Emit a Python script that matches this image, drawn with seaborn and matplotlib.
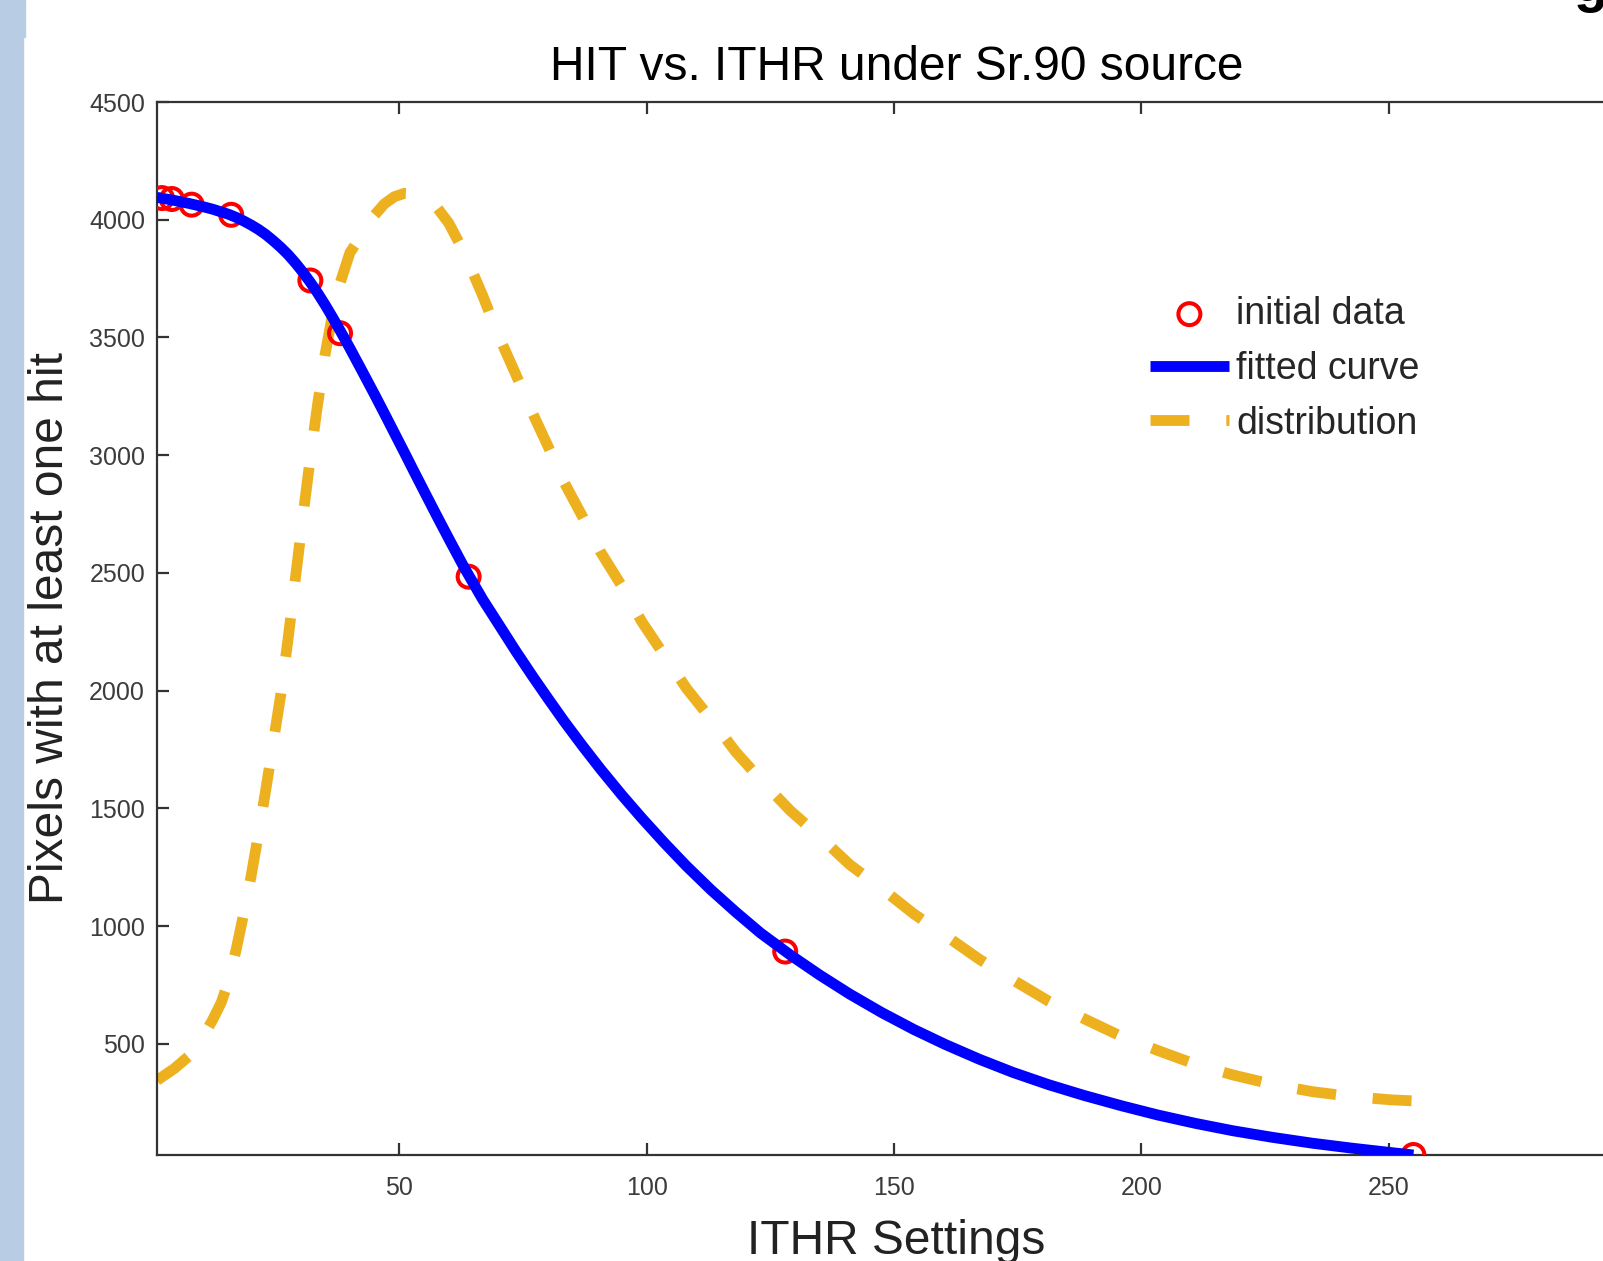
import numpy as np
import pandas as pd
import seaborn as sns
import matplotlib.pyplot as plt
from matplotlib.patches import Rectangle

# measured points (ITHR setting, pixels hit)
ithr = [2, 4, 8, 16, 32, 38, 64, 128, 255]
hits = [4092, 4088, 4064, 4021, 3742, 3518, 2484, 892, 28]

# fitted curve
fit_x = [1, 4.5, 7.5, 10, 12.2, 14, 15.5, 17, 18.5, 20, 21.5, 23, 24.5, 26,
         27.5, 29, 30.5, 32, 33.5, 35, 36.5, 38, 40, 42.5, 45, 47, 49, 51, 53,
         55, 57.5, 60, 63, 66.8, 70, 73.5, 77, 80, 83.3, 87, 90.7, 95, 99,
         103.5, 108, 113, 118, 123, 129, 135, 141, 147.5, 154, 160.4, 167.2,
         174, 181.2, 188.4, 196, 203.3, 211, 218.5, 226.5, 234.6, 242.6, 250.6,
         255]
fit_y = [4095, 4082, 4069, 4057, 4045, 4033, 4023, 4010, 3995, 3978, 3959, 3937,
         3911, 3883, 3852, 3816, 3777, 3734, 3688, 3638, 3585, 3530, 3454, 3356,
         3257, 3176, 3094, 3012, 2929, 2847, 2745, 2645, 2527, 2389, 2284, 2169,
         2059, 1968, 1870, 1766, 1666, 1556, 1459, 1355, 1256, 1154, 1060, 971,
         878, 792, 712, 633, 561, 497, 435, 379, 327, 281, 237, 198, 162, 131,
         103, 78, 57, 38, 28]

# distribution curve (dashed)
dist_x = [1, 4.5, 7.5, 10, 12.2, 14, 15.5, 17, 18.5, 20, 21.5, 23, 24.5, 26,
          27.5, 29, 30.5, 32, 33.5, 35, 36.5, 38, 40, 42.5, 45, 47, 49, 51, 53,
          55, 57.5, 60, 63, 66.8, 70, 73.5, 77, 80, 83.3, 87, 90.7, 95, 99,
          103.5, 108, 113, 118, 123, 129, 135, 141, 147.5, 154, 160.4, 167.2,
          174, 181.2, 188.4, 196, 203.3, 211, 218.5, 226.5, 234.6, 242.6, 250.6,
          255]
dist_y = [345, 395, 449, 520, 600, 676, 770, 900, 1050, 1210, 1390, 1580, 1780,
          1980, 2220, 2480, 2740, 2990, 3220, 3430, 3600, 3730, 3860, 3940, 4020,
          4068, 4098, 4112, 4110, 4096, 4055, 3985, 3865, 3680, 3510, 3345, 3175,
          3040, 2885, 2740, 2588, 2443, 2293, 2152, 2011, 1879, 1740, 1623, 1491,
          1380, 1262, 1160, 1052, 960, 860, 772, 682, 607, 531, 472, 413, 368,
          328, 297, 276, 262, 258]

x_ticks = [50, 100, 150, 200, 250]
y_ticks = [500, 1000, 1500, 2000, 2500, 3000, 3500, 4000, 4500]

sns.set_theme(style="ticks")
plt.rcParams['font.family'] = ['Liberation Sans', 'DejaVu Sans']
plt.rcParams['xtick.direction'] = 'in'
plt.rcParams['ytick.direction'] = 'in'

W, H = 1603, 1261
fig = plt.figure(figsize=(W / 100, H / 100), dpi=100)
ax = fig.add_axes([157 / W, 1 - 1155 / H, 1479 / W, (1155 - 102) / H])

fit_df = pd.DataFrame({"x": fit_x, "y": fit_y})
dist_df = pd.DataFrame({"x": dist_x, "y": dist_y})
data_df = pd.DataFrame({"x": ithr, "y": hits})

yellow = "#EDB120"
sns.lineplot(data=dist_df, x="x", y="y", ax=ax, color=yellow, linewidth=7.8,
             linestyle=(0, (3.6, 3.4)), dash_capstyle="butt",
             estimator=None, sort=False, zorder=2)
sns.scatterplot(data=data_df, x="x", y="y", ax=ax, marker="o", s=250,
                color="red", zorder=3)
pts = ax.collections[-1]
pts.set_facecolor("none")
pts.set_edgecolor("red")
pts.set_linewidth(2.9)
sns.lineplot(data=fit_df, x="x", y="y", ax=ax, color="blue", linewidth=7.8,
             solid_capstyle="butt", solid_joinstyle="round",
             estimator=None, sort=False, zorder=4)

ax.set_xlim(1, 300)
ax.set_ylim(28, 4500)
ax.set_xticks(x_ticks)
ax.set_yticks(y_ticks)

grey = "#333333"
for s in ax.spines.values():
    s.set_visible(True)
    s.set_color(grey)
    s.set_linewidth(1.6)
ax.tick_params(axis="both", which="both", length=8.6, width=1.6, color=grey,
               labelcolor="#3c3c3c", labelsize=18, top=True, right=True)
ax.tick_params(axis="x", pad=15)
ax.tick_params(axis="y", pad=8.6)

ax.set_title("HIT vs. ITHR under Sr.90 source", fontsize=34.5, color="black",
             pad=15.8)
ax.set_xlabel("ITHR Settings", fontsize=34.5, color="#222222")
ax.set_ylabel("Pixels with at least one hit", fontsize=34.5, color="#222222")
ax.xaxis.set_label_coords(0.5, (1155 - 1254) / 1053)
ax.xaxis.label.set_verticalalignment("baseline")
ax.yaxis.set_label_coords((51 - 157) / 1479, 0.5)
ax.yaxis.label.set_verticalalignment("center")

handles = [pts, ax.lines[1], ax.lines[0]]
labels = ["initial data", "fitted curve", "distribution"]
ax.legend(handles, labels, frameon=False, loc="upper left",
          bbox_to_anchor=(1150 / W, 1 - 296 / H), bbox_transform=fig.transFigure,
          fontsize=27, handlelength=2.1, handletextpad=0.2, labelspacing=0.5,
          borderpad=0, borderaxespad=0, scatterpoints=1)

# slide decorations around the cropped figure
bar = "#B8CCE4"
fig.patches.append(Rectangle((0, 0), 22.5 / W, 1 - 37 / H,
                             transform=fig.transFigure, color=bar, zorder=0))
fig.patches.append(Rectangle((0, 1 - 37 / H), 25 / W, 37 / H,
                             transform=fig.transFigure, color=bar, zorder=0))
fig.text(1574 / W, 1 - 13 / H, "g", fontsize=40, fontweight="bold",
         va="bottom", ha="left", color="black")

fig.savefig("out.png", dpi=100)
